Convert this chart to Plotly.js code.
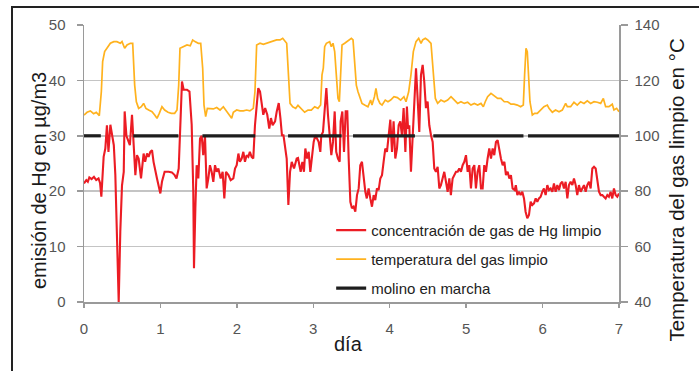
<!DOCTYPE html>
<html>
<head>
<meta charset="utf-8">
<script src="https://cdn.plot.ly/plotly-3.0.1.min.js"></script>
<style>
  html, body { margin: 0; padding: 0; background: #fff; }
  #wrap { position: relative; width: 699px; height: 371px; overflow: hidden; }
  #chart { position: absolute; left: 0; top: 0; width: 699px; height: 371px; }
  #frame { position: absolute; left: 11px; top: 6px; width: 720px; height: 400px;
           border-top: 2px solid #222; border-left: 2px solid #222; pointer-events: none; }
</style>
</head>
<body>
<div id="wrap">
  <div id="chart"></div>
  <div id="frame"></div>
</div>
<script>
// Hg concentration in the clean gas (µg/m3) over seven days
const hgDays = [0.0,0.03,0.05,0.07,0.10,0.13,0.16,0.19,0.21,0.227,0.257,0.279,0.30,0.32,0.345,0.37,0.39,0.41,0.43,0.454,0.475,0.497,0.52,0.532,0.555,0.576,0.60,0.628,0.65,0.672,0.693,0.715,0.746,0.78,0.80,0.825,0.845,0.868,0.89,0.91,0.955,0.999,1.02,1.055,1.108,1.15,1.186,1.21,1.239,1.26,1.282,1.304,1.348,1.38,1.409,1.43,1.439,1.457,1.474,1.496,1.518,1.54,1.56,1.583,1.605,1.627,1.648,1.67,1.692,1.714,1.736,1.758,1.788,1.814,1.836,1.858,1.89,1.919,1.954,1.976,1.998,2.02,2.04,2.063,2.085,2.106,2.128,2.15,2.17,2.193,2.215,2.237,2.259,2.28,2.303,2.325,2.346,2.37,2.398,2.424,2.446,2.468,2.50,2.522,2.548,2.57,2.59,2.61,2.652,2.674,2.696,2.718,2.748,2.783,2.80,2.835,2.857,2.878,2.896,2.918,2.94,2.961,2.983,3.005,3.027,3.048,3.07,3.092,3.105,3.127,3.149,3.171,3.192,3.214,3.236,3.258,3.28,3.30,3.323,3.345,3.358,3.38,3.402,3.424,3.445,3.463,3.485,3.506,3.528,3.55,3.572,3.594,3.615,3.637,3.659,3.681,3.70,3.724,3.746,3.768,3.79,3.811,3.833,3.855,3.877,3.899,3.92,3.942,3.964,3.986,4.008,4.03,4.051,4.073,4.095,4.117,4.138,4.16,4.182,4.205,4.225,4.24,4.256,4.278,4.30,4.322,4.344,4.365,4.387,4.409,4.431,4.452,4.474,4.496,4.518,4.54,4.562,4.583,4.605,4.627,4.649,4.67,4.692,4.714,4.736,4.758,4.78,4.80,4.823,4.845,4.867,4.889,4.91,4.932,4.954,4.976,4.998,5.02,5.041,5.063,5.085,5.107,5.128,5.15,5.172,5.194,5.216,5.237,5.259,5.281,5.303,5.325,5.347,5.368,5.39,5.412,5.434,5.455,5.478,5.50,5.521,5.543,5.565,5.586,5.608,5.635,5.65,5.67,5.69,5.713,5.735,5.757,5.778,5.80,5.822,5.844,5.866,5.888,5.91,5.931,5.953,5.975,5.997,6.018,6.04,6.062,6.084,6.106,6.128,6.149,6.171,6.193,6.215,6.236,6.258,6.28,6.302,6.324,6.345,6.367,6.39,6.411,6.433,6.454,6.476,6.498,6.52,6.542,6.564,6.585,6.607,6.629,6.651,6.673,6.695,6.716,6.738,6.76,6.782,6.803,6.825,6.847,6.868,6.89,6.912,6.934,6.956,6.977,7.0];
const hgConc = [21.4,22.0,21.7,22.5,22.2,22.6,22.0,22.3,21.5,19.0,26.2,27.7,31.9,27.1,32.0,30.0,28.3,22.9,13.9,0.0,12.7,21.0,23.5,34.4,30.0,29.0,28.3,33.8,28.3,22.9,26.5,25.9,22.3,26.8,25.3,26.8,26.2,27.1,27.4,25.3,22.3,19.6,21.7,23.5,23.5,23.4,22.9,22.3,24.1,31.9,39.8,38.3,38.3,38.0,32.0,20.0,6.1,16.9,24.7,22.3,29.5,30.0,26.5,30.0,20.5,22.3,24.7,23.5,21.7,24.7,23.5,24.1,22.3,23.5,18.7,23.5,22.9,22.0,22.3,24.1,24.7,26.8,25.3,25.9,27.1,25.3,26.5,26.2,27.1,26.2,25.9,31.9,36.2,38.6,38.0,35.6,33.8,35.0,33.8,31.3,33.2,31.9,32.6,34.4,35.9,33.2,30.1,30.1,25.9,17.5,23.5,25.3,24.1,25.9,26.0,23.5,25.3,23.5,27.7,25.9,27.1,23.5,25.9,28.9,30.1,29.5,28.9,27.1,30.1,30.7,35.0,38.6,33.8,29.5,26.5,28.9,34.4,27.1,25.9,25.3,32.6,34.4,27.1,34.4,34.4,25.9,18.1,16.9,17.2,16.3,19.3,20.5,24.7,25.3,22.3,19.9,18.7,20.5,18.7,17.2,19.3,18.4,20.5,20.2,22.3,22.9,25.3,27.7,27.1,29.5,32.9,27.1,32.6,25.9,27.7,31.9,32.6,30.1,35.0,27.1,35.3,31.3,31.9,23.5,30.7,38.0,42.2,36.8,30.7,41.0,42.8,39.8,35.0,36.2,31.9,30.1,28.9,24.1,23.5,24.4,20.5,21.1,22.3,23.5,21.7,19.9,22.3,19.3,22.3,22.9,23.5,23.5,24.1,23.5,24.7,25.3,26.5,23.5,24.7,20.5,24.1,24.7,20.5,23.5,24.7,20.5,20.5,24.7,23.5,25.9,27.7,25.9,27.7,26.5,28.9,29.2,27.1,25.9,24.7,25.3,22.9,23.5,22.3,22.9,20.5,20.2,21.1,19.3,19.9,19.3,19.9,18.7,16.3,15.1,15.7,18.1,17.5,17.8,18.7,18.1,18.7,19.0,19.9,20.5,19.3,21.1,20.2,20.5,19.9,21.4,19.9,21.1,20.2,21.4,21.7,20.5,21.7,18.7,21.1,21.7,21.1,22.3,21.1,19.3,21.1,19.9,20.5,21.1,19.9,21.1,21.7,20.5,24.1,24.4,24.1,21.7,19.9,19.3,19.3,19.0,18.7,19.3,19.0,19.9,18.7,20.5,19.3,19.0,19.6];

// Clean gas temperature (°C)
const tempDays = [0.0,0.04,0.083,0.126,0.16,0.2,0.227,0.244,0.27,0.30,0.345,0.39,0.43,0.475,0.497,0.532,0.563,0.606,0.637,0.663,0.685,0.715,0.75,0.78,0.81,0.846,0.89,0.925,0.955,0.985,1.02,1.055,1.099,1.143,1.186,1.217,1.239,1.256,1.304,1.348,1.39,1.422,1.452,1.496,1.527,1.553,1.57,1.592,1.614,1.648,1.692,1.736,1.78,1.823,1.866,1.902,1.932,1.954,1.998,2.041,2.085,2.128,2.17,2.215,2.237,2.259,2.303,2.346,2.39,2.433,2.477,2.52,2.565,2.60,2.652,2.674,2.696,2.731,2.77,2.80,2.844,2.887,2.931,2.974,3.018,3.061,3.096,3.114,3.131,3.149,3.171,3.214,3.236,3.258,3.28,3.302,3.323,3.341,3.358,3.376,3.411,3.455,3.498,3.52,3.542,3.563,3.585,3.607,3.637,3.672,3.715,3.75,3.768,3.80,3.82,3.842,3.872,3.90,3.942,3.977,4.012,4.056,4.10,4.143,4.186,4.213,4.248,4.278,4.309,4.344,4.379,4.41,4.431,4.466,4.497,4.54,4.57,4.597,4.627,4.67,4.714,4.758,4.802,4.845,4.889,4.932,4.976,5.02,5.063,5.107,5.15,5.194,5.225,5.25,5.281,5.325,5.368,5.412,5.455,5.499,5.543,5.586,5.626,5.67,5.713,5.748,5.765,5.783,5.80,5.818,5.835,5.866,5.896,5.931,5.975,6.018,6.062,6.084,6.128,6.17,6.215,6.258,6.302,6.324,6.367,6.411,6.454,6.498,6.542,6.585,6.629,6.673,6.716,6.76,6.795,6.825,6.868,6.912,6.934,6.969,7.0];
const tempGas = [107.5,108.5,109,108,108.5,107.3,116,126.8,130.4,131.6,133.4,134,134,133.4,134,131.6,132.8,133.4,133.4,118.3,112.3,109.9,110.5,111.7,109.9,109.3,108.7,107.5,106.3,108.1,110.5,109.3,108.5,108.1,108.1,109.3,118.3,131.6,132.2,132.8,132.5,134.6,134,133.4,133.4,124.4,111.1,106.9,109.9,109.9,109.7,110.2,109.3,110.5,108.7,107.5,106.3,108.5,109.3,109,109,109.3,109,109.9,116,132.8,133.4,133,133.4,134,134.2,134.6,134.6,135.2,133.4,122,111.7,110.5,109.9,111,109.9,108.5,109.3,109.3,110.5,109.9,111.1,122,124.4,132.2,133.4,134,132.2,133.4,130.4,119.5,113.5,112.3,122,132.8,133.4,134.2,135.2,134.6,125.6,118.3,115.9,114.1,111.7,111.1,110.5,112.9,111.1,114.1,117.1,113.5,111.7,111.1,112.9,112.3,112.9,114.1,113.8,112.9,114.1,112.3,115.9,122,130.4,134,135.2,133.4,134.6,135.2,134.6,133.4,123.2,113.5,111.7,112.9,112.3,112.9,114.1,112.9,111.7,112.3,111.7,112.1,111.1,111.7,111.1,111.7,110.5,112.3,114.1,115.3,114.5,113.5,113.5,112.3,112.3,111.4,111.4,111.1,110.5,111.1,122,131.6,130.4,120.7,112.3,107.5,108.1,108.1,109.3,110.5,111.1,109.9,108.5,109.3,108.7,109.3,111.7,110.5,110.5,112.1,111.1,112.3,111.7,112.6,111.7,112.3,112.1,111.7,113.5,110.5,110.5,111.4,109.3,109.9,108.7];

// Periods with the mill running (days), drawn at the 100 °C level
const millStart = [0.0, 0.645, 1.55, 2.67, 3.52, 4.57, 5.81];
const millEnd   = [0.22, 1.235, 2.24, 3.37, 4.33, 5.75, 7.0];
const millLevel = 100;

const seriesNames = [
  'concentración de gas de Hg limpio',
  'temperatura del gas limpio',
  'molino en marcha'
];

const millX = [], millY = [];
millStart.forEach((s, i) => {
  millX.push(s, millEnd[i], null);
  millY.push(millLevel, millLevel, null);
});

const FONT = 'Liberation Sans, Arial, Helvetica, sans-serif';
const GRID = '#c4c4c4';
const AXIS = '#9a9a9a';

// Mill line first, Hg line last so it sits on top; legendrank orders the legend
const traces = [
  { x: millX, y: millY, yaxis: 'y2', mode: 'lines', name: seriesNames[2],
    legendgroup: 'c', legendrank: 3, line: { color: '#1e1e1e', width: 3.2 }, connectgaps: false },
  { x: tempDays, y: tempGas, yaxis: 'y2', mode: 'lines', name: seriesNames[1],
    legendgroup: 'b', legendrank: 2, line: { color: '#ffb21e', width: 1.7 } },
  { x: hgDays, y: hgConc, yaxis: 'y', mode: 'lines', name: seriesNames[0],
    legendgroup: 'a', legendrank: 1, line: { color: '#ec1c24', width: 2.1 } }
];

const tickFont = { family: FONT, size: 15, color: '#555555' };

const layout = {
  width: 699, height: 371,
  margin: { l: 84, r: 80, t: 25, b: 69, pad: 0 },
  paper_bgcolor: '#fff', plot_bgcolor: '#fff',
  showlegend: true,
  legend: {
    x: 0.462, y: 0.318, xanchor: 'left', yanchor: 'top',
    bgcolor: 'rgba(0,0,0,0)', borderwidth: 0,
    traceorder: 'grouped', tracegroupgap: 6.5,
    font: { family: FONT, size: 15, color: '#222' }
  },
  xaxis: {
    range: [0, 7], dtick: 1, showgrid: false, zeroline: false,
    showline: true, linecolor: AXIS, linewidth: 1.5,
    ticks: 'outside', ticklen: 4, tickcolor: AXIS, tickwidth: 1.5,
    tickfont: tickFont, ticklabelstandoff: 8
  },
  yaxis: {
    range: [0, 50], dtick: 10, showgrid: true, gridcolor: GRID, gridwidth: 1.5,
    zeroline: false, showline: true, linecolor: AXIS, linewidth: 1.5,
    ticks: 'outside', ticklen: 6, tickcolor: AXIS, tickwidth: 1.5,
    tickfont: tickFont, ticklabelstandoff: 8
  },
  yaxis2: {
    range: [40, 140], dtick: 20, overlaying: 'y', side: 'right',
    showgrid: false, zeroline: false, showline: true, linecolor: AXIS, linewidth: 1.5,
    ticks: 'outside', ticklen: 7, tickcolor: AXIS, tickwidth: 1.5,
    tickfont: tickFont, ticklabelstandoff: 4
  },
  annotations: [
    { text: 'emisión de Hg en µg/m3', xref: 'paper', yref: 'paper',
      x: -0.084, y: 0.437, xanchor: 'center', yanchor: 'middle', textangle: -90,
      showarrow: false, font: { family: FONT, size: 20, color: '#1a1a1a' } },
    { text: 'Temperatura del gas limpio en °C', xref: 'paper', yref: 'paper',
      x: 1.108, y: 0.405, xanchor: 'center', yanchor: 'middle', textangle: -90,
      showarrow: false, font: { family: FONT, size: 20.5, color: '#1a1a1a' } },
    { text: 'día', xref: 'paper', yref: 'paper',
      x: 0.4935, y: -0.152, xanchor: 'center', yanchor: 'middle',
      showarrow: false, font: { family: FONT, size: 20, color: '#1a1a1a' } }
  ]
};

Plotly.newPlot('chart', traces, layout, { staticPlot: true, displayModeBar: false });
</script>
</body>
</html>
